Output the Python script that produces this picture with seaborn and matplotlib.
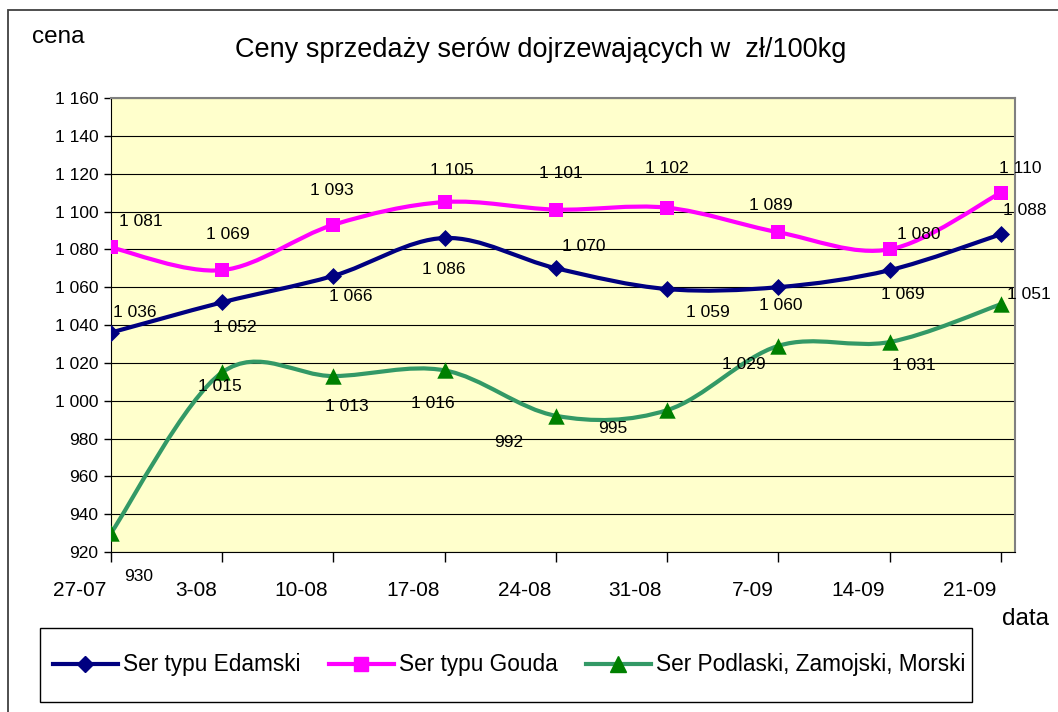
import matplotlib
matplotlib.use("Agg")
import matplotlib.pyplot as plt
import numpy as np
import pandas as pd
import seaborn as sns
from matplotlib.path import Path
from matplotlib.patches import PathPatch, Rectangle
from matplotlib.lines import Line2D
from matplotlib.ticker import FuncFormatter
from matplotlib.transforms import ScaledTranslation

dates = ['27-07', '3-08', '10-08', '17-08', '24-08', '31-08', '7-09', '14-09', '21-09']
edamski = [1036, 1052, 1066, 1086, 1070, 1059, 1060, 1069, 1088]
gouda = [1081, 1069, 1093, 1105, 1101, 1102, 1089, 1080, 1110]
podlaski = [930, 1015, 1013, 1016, 992, 995, 1029, 1031, 1051]
names = ['Ser typu Edamski', 'Ser typu Gouda', 'Ser Podlaski, Zamojski, Morski']

# where the value labels sit, in pixels from the marker (+x right, +y up)
edam_off = [(24, 20), (13, -25), (17, -21), (-1, -32), (28, 22), (41, -23), (2, -18), (13, -24), (24, 24)]
gouda_off = [(30, 26), (6, 36), (-2, 34), (7, 32), (5, 36), (0, 39), (-8, 27), (29, 15), (19, 24)]
podl_off = [(28, -43), (-2, -14), (13, -30), (-12, -33), (-47, -27), (-54, -18), (-35, -19), (24, -23), (28, 10)]

df = pd.DataFrame({'x': range(len(dates)), 'edamski': edamski, 'gouda': gouda, 'podlaski': podlaski})

W, H = 1058, 712
def px(x, y):
    return x / W, 1 - y / H

plt.rcParams['font.family'] = ['Liberation Sans', 'DejaVu Sans']

#%%
def smooth_path(xs, ys):
    # excel-like smoothed line (catmull-rom as bezier segments)
    pts = np.column_stack([xs, ys]).astype(float)
    n = len(pts)
    verts = [pts[0]]
    codes = [Path.MOVETO]
    for i in range(n - 1):
        p0 = pts[max(i - 1, 0)]
        p1 = pts[i]
        p2 = pts[i + 1]
        p3 = pts[min(i + 2, n - 1)]
        verts += [p1 + (p2 - p0) / 6, p2 - (p3 - p1) / 6, p2]
        codes += [Path.CURVE4] * 3
    return Path(verts, codes)

fig = plt.figure(figsize=(W / 100, H / 100), dpi=100)
fig.patch.set_facecolor('white')
ax = fig.add_axes([111 / W, 1 - 552 / H, 904 / W, 454 / H])
ax.set_facecolor('#FFFFCC')

series = [
    ('edamski', '#000080', '#000080', 'D', 75, 8.5, edam_off),
    ('gouda', '#FF00FF', '#FF00FF', 's', 110, 10.5, gouda_off),
    ('podlaski', '#339966', '#008000', '^', 140, 11.8, podl_off),
]

handles = []
for z, (col, lc, mc, mk, s, ms, offs) in enumerate(series):
    ax.add_patch(PathPatch(smooth_path(df['x'], df[col]), facecolor='none', edgecolor=lc,
                           lw=3, zorder=3 + z * 2, capstyle='round', joinstyle='round'))
    sns.scatterplot(data=df, x='x', y=col, marker=mk, s=s, color=mc, linewidth=0,
                    ax=ax, zorder=4 + z * 2)
    for i, v in enumerate(df[col]):
        ax.annotate(f"{v:,}".replace(',', ' '), (i, v), xytext=offs[i], textcoords='offset pixels',
                    ha='center', va='center', fontsize=12.5, zorder=10)
    handles.append(Line2D([], [], color=lc, lw=3, marker=mk, ms=ms, markerfacecolor=mc,
                          markeredgecolor=mc))

ax.set_xlim(0, 8.126)
ax.set_ylim(920, 1160)
ax.set_yticks(range(920, 1161, 20))
ax.yaxis.set_major_formatter(FuncFormatter(lambda v, p: f"{int(v):,}".replace(',', ' ')))
ax.set_xticks(range(len(dates)))
ax.set_xticklabels(dates)
ax.set_xlabel('')
ax.set_ylabel('')
ax.grid(axis='y', color='black', lw=0.8)
ax.grid(axis='x', visible=False)
ax.set_axisbelow(True)
ax.tick_params(axis='y', length=5, width=1, pad=4, labelsize=12.5)
ax.tick_params(axis='x', length=7, width=1, pad=14, labelsize=15)
for lab in ax.get_xticklabels():
    lab.set_horizontalalignment('right')
    lab.set_transform(lab.get_transform() + ScaledTranslation(-5 / 100, 0, fig.dpi_scale_trans))
for side in ['left', 'bottom']:
    ax.spines[side].set_color('black')
for side in ['top', 'right']:
    ax.spines[side].set_color('#808080')
    ax.spines[side].set_linewidth(1.5)

fig.text(*px(541, 57), 'Ceny sprzedaży serów dojrzewających w  zł/100kg', ha='center', va='baseline', fontsize=19.5)
fig.text(*px(32, 43), 'cena', ha='left', va='baseline', fontsize=17.5)
fig.text(*px(1002, 625), 'data', ha='left', va='baseline', fontsize=17.5)

# outer chart frame and legend box
fig.add_artist(Rectangle(px(8, 800), 1.2, (800 - 10) / H, transform=fig.transFigure,
                         fill=False, edgecolor='#404040', lw=1.3))
fig.add_artist(Rectangle(px(40, 702), 932 / W, 74 / H, transform=fig.transFigure,
                         facecolor='white', edgecolor='black', lw=1))
fig.legend(handles, names, loc='center left', bbox_to_anchor=px(53, 665), ncol=3, frameon=False,
           fontsize=16.3, handlelength=2.87, handletextpad=0.22, columnspacing=1.25,
           borderpad=0, borderaxespad=0)

plt.savefig('out.png', dpi=100)
